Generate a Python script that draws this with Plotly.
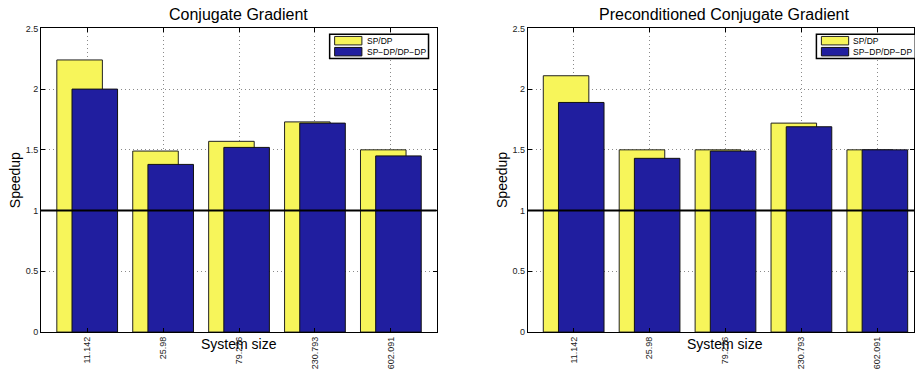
import plotly.graph_objects as go

# ---- data ----
system_sizes = ["11.142", "25.98", "79.276", "230.793", "602.091"]
series_names = ["SP/DP", "SP\u2212DP/DP\u2212DP"]
cg_sp_dp = [2.24, 1.49, 1.57, 1.73, 1.50]
cg_mixed = [2.00, 1.38, 1.52, 1.72, 1.45]
pcg_sp_dp = [2.11, 1.50, 1.50, 1.72, 1.50]
pcg_mixed = [1.89, 1.43, 1.49, 1.69, 1.50]
titles = ["Conjugate Gradient", "Preconditioned Conjugate Gradient"]
y_ticks = [0, 0.5, 1, 1.5, 2, 2.5]

# ---- style ----
W, H = 915, 376
YELLOW = "#F7F55A"
BLUE = "#201E9F"
FONT = "Liberation Sans, Arial, sans-serif"

# axis pixel geometry
ax_left = [41.0, 528.3]
ax_right = [437.0, 915.0]
ax_top, ax_bot = 24.0, 336.0
px_per_unit = 76.0
x_start = [0.391, 0.395]

def px(x):
    return x / W

def py(y):
    return 1 - y / H

fig = go.Figure()
pos = list(range(1, len(system_sizes) + 1))

panels = [(cg_sp_dp, cg_mixed), (pcg_sp_dp, pcg_mixed)]
for i, (a, b) in enumerate(panels):
    xa = "x" if i == 0 else "x2"
    ya = "y" if i == 0 else "y2"
    fig.add_trace(go.Bar(x=pos, y=a, width=0.6, offset=-0.4, xaxis=xa, yaxis=ya,
                         marker=dict(color=YELLOW, line=dict(color="#222", width=1)),
                         name=series_names[0], showlegend=False))
    fig.add_trace(go.Bar(x=pos, y=b, width=0.6, offset=-0.2, xaxis=xa, yaxis=ya,
                         marker=dict(color=BLUE, line=dict(color="#111", width=1)),
                         name=series_names[1], showlegend=False))

GRID = dict(showgrid=True, gridcolor="#8a8a8a", griddash="1px,3px", gridwidth=1)
common_x = dict(tickmode="array", tickvals=pos, ticktext=system_sizes, tickangle=-90,
                ticks="inside", ticklen=4, tickcolor="black", showline=True, linecolor="black",
                linewidth=1, mirror="ticks", zeroline=False,
                tickfont=dict(family=FONT, size=9, color="#222"), **GRID)
common_y = dict(range=[0, 2.5], tickmode="array", tickvals=y_ticks,
                ticktext=[("%g" % v) for v in y_ticks],
                ticks="inside", ticklen=4, tickcolor="black", showline=True, linecolor="black",
                linewidth=1, mirror="ticks", zeroline=False,
                tickfont=dict(family=FONT, size=9, color="#222"), **GRID)

ydom = [py(ax_bot), py(ax_top)]
layout = dict(
    width=W, height=H, margin=dict(l=0, r=0, t=0, b=0),
    paper_bgcolor="white", plot_bgcolor="white", barmode="overlay",
    xaxis=dict(domain=[px(ax_left[0]), px(ax_right[0])],
               range=[x_start[0], x_start[0] + (ax_right[0] - ax_left[0]) / px_per_unit], **common_x),
    yaxis=dict(domain=ydom, anchor="x", **common_y),
    xaxis2=dict(domain=[px(ax_left[1]), px(ax_right[1])],
                range=[x_start[1], x_start[1] + (ax_right[1] - ax_left[1]) / px_per_unit],
                anchor="y2", **common_x),
    yaxis2=dict(domain=ydom, anchor="x2", **common_y),
)
fig.update_layout(**layout)

shapes = []
annos = []
full_width = 396.0
for i in range(2):
    xl = ax_left[i]
    xref = "x" if i == 0 else "x2"
    yref = "y" if i == 0 else "y2"
    # reference line at speedup 1
    shapes.append(dict(type="line", xref=xref + " domain", yref=yref, x0=0, x1=1, y0=1, y1=1,
                       line=dict(color="black", width=2), layer="above"))
    # legend box
    shapes.append(dict(type="rect", xref="paper", yref="paper",
                       x0=px(xl + 289), x1=px(xl + 388), y0=py(55), y1=py(30),
                       line=dict(color="black", width=1.5), fillcolor="white", layer="above"))
    shapes.append(dict(type="rect", xref="paper", yref="paper",
                       x0=px(xl + 294), x1=px(xl + 321.3), y0=py(41), y1=py(32.3),
                       line=dict(color="#222", width=1), fillcolor=YELLOW, layer="above"))
    shapes.append(dict(type="rect", xref="paper", yref="paper",
                       x0=px(xl + 294), x1=px(xl + 321.3), y0=py(52.3), y1=py(43.6),
                       line=dict(color="#111", width=1), fillcolor=BLUE, layer="above"))
    for name, yy in zip(series_names, [36.7, 48.0]):
        annos.append(dict(text=name, xref="paper", yref="paper", x=px(xl + 324), y=py(yy),
                          xanchor="left", yanchor="middle", showarrow=False,
                          font=dict(family=FONT, size=8.5, color="black")))
    cx = xl + full_width / 2 - (0 if i == 0 else 1)
    annos.append(dict(text=titles[i], xref="paper", yref="paper", x=px(cx), y=py(10),
                      xanchor="center", yanchor="middle", showarrow=False,
                      font=dict(family=FONT, size=16, color="black")))
    annos.append(dict(text="System size", xref="paper", yref="paper", x=px(cx), y=py(348),
                      xanchor="center", yanchor="middle", showarrow=False,
                      font=dict(family=FONT, size=14, color="black")))
    annos.append(dict(text="Speedup", xref="paper", yref="paper", x=px(xl - 26), y=py(180),
                      xanchor="center", yanchor="middle", showarrow=False, textangle=-90,
                      font=dict(family=FONT, size=14, color="black")))

fig.update_layout(shapes=shapes, annotations=annos)
fig.write_html("out.html")
